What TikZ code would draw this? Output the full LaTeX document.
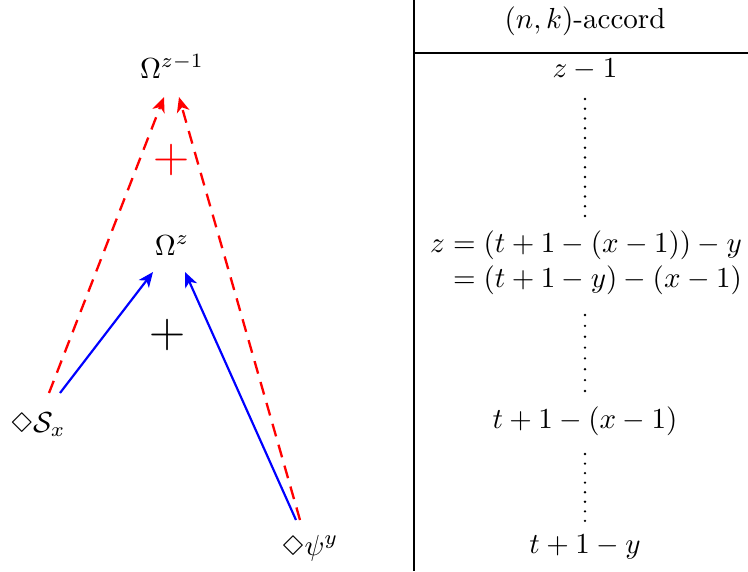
\documentclass[tikz,border=0pt]{standalone}
\usepackage{latexsym}
\usetikzlibrary{arrows.meta,calc}
\begin{document}
\begin{tikzpicture}[x=0.3448pt,y=-0.3448pt,
  lbl/.style={anchor=base,inner sep=0pt},
  bigplus/.style={inner sep=0pt,font=\fontsize{17}{20}\selectfont},
  tip/.style={-{Stealth[length=5.2pt,width=4.4pt,inset=1.5pt]}},
  redarr/.style={tip,red,line width=0.8pt,dash pattern=on 4.5pt off 3pt},
  bluearr/.style={tip,blue,line width=0.75pt},
  rule/.style={line width=1pt,black},
  vdot/.style={black}]
\useasboundingbox (0,0) rectangle (748,571);

% left part
\node[lbl] (Oz1) at (172,78) {$\Omega^{z-1}$};
\node[lbl] (Oz)  at (172,255) {$\Omega^{z}$};
\node[lbl] (Sx)  at (38,432) {$\Diamond\mathcal{S}_x$};
\node[lbl] (Py)  at (310,555) {$\Diamond\psi^y$};
\node[bigplus,red] (p1) at (172,160) {$+$};
\node[bigplus] (p2) at (168,335) {$+$};

\draw[redarr] ($(Sx.base)+(11,-39)$) -- ($(Oz1.base)+(-8,19)$);
\draw[redarr] ($(Py.base)+(-10,-35)$) -- ($(Oz1.base)+(7,19)$);
\draw[bluearr] ($(Sx.base)+(22,-39)$) -- ($(Oz.base)+(-19,17)$);
\draw[bluearr] ($(Py.base)+(-14,-35)$) -- ($(Oz.base)+(13,17)$);

% table
\coordinate (vt) at (414,0);
\coordinate (vb) at (414,571);
\coordinate (hl) at (414,53);
\coordinate (hr) at (748,53);
\draw[rule] (vt) -- (vb);
\draw[rule] (hl) -- (hr);

\node[lbl] (hdr) at (585,28) {$(n,k)$-accord};
\node[lbl] (zm1) at (585,77) {$z-1$};
\node[inner sep=0pt] (eq) at (586,263) {$\begin{array}{@{}r@{}l@{}} z&{}=(t+1-(x-1))-y\\ &{}=(t+1-y)-(x-1)\end{array}$};
\node[lbl] (tx) at (585,428) {$t+1-(x-1)$};
\node[lbl] (ty) at (585,553) {$t+1-y$};

\foreach \i in {0,...,12} \fill[vdot] (585,{99+\i*9.75}) circle (0.45pt);
\foreach \i in {0,...,7} \fill[vdot] (585,{315+\i*10.85}) circle (0.45pt);
\foreach \i in {0,...,7} \fill[vdot] (585,{454+\i*9.55}) circle (0.45pt);
\end{tikzpicture}
\end{document}
